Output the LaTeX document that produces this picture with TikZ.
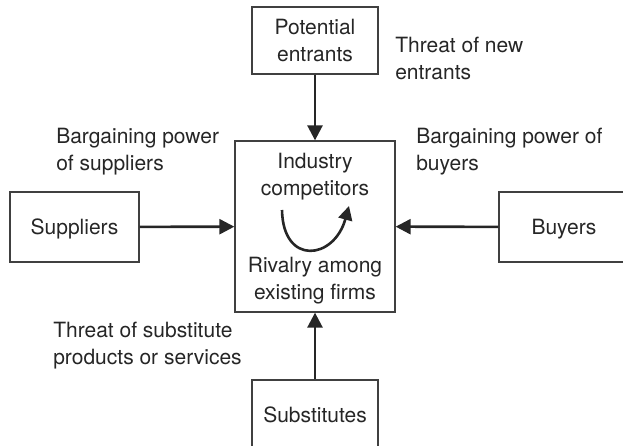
\documentclass[tikz,border=0pt]{standalone}
\usepackage{fontspec}
\setmainfont{TeX Gyre Heros}
\usetikzlibrary{arrows.meta}

\begin{document}
\begin{tikzpicture}[x=1pt,y=-1pt,line width=2.6pt,>={Triangle[length=15pt,width=15pt]},
  font=\fontsize{21}{27}\selectfont,color=black!85,
  forcebox/.style={draw=black!75,line width=1.3pt,inner sep=0pt,align=center,text depth=0pt},
  caption/.style={align=left,anchor=west,inner sep=0pt}]
  \useasboundingbox (0,0) rectangle (623,446);
  % cajas de las fuerzas
  \node[forcebox,minimum width=126pt,minimum height=67pt] (entrants) at (315,40.5) {Potential\\entrants};
  \node[forcebox,minimum width=160pt,minimum height=171pt] (rivals) at (315,226.5) {};
  \node[forcebox,minimum width=129pt,minimum height=70pt] (suppliers) at (74.5,227) {Suppliers};
  \node[forcebox,minimum width=130pt,minimum height=70pt] (buyers) at (564,227) {Buyers};
  \node[forcebox,minimum width=126pt,minimum height=70pt] (substitutes) at (315,415) {Substitutes};
  % textos dentro de la caja central
  \node[inner sep=0pt,align=center] (industry) at (315,177) {Industry\\competitors};
  \node[inner sep=0pt,align=center] (rivalry) at (315,281) {Rivalry among\\existing firms};
  % flechas hacia la industria
  \draw[->] (entrants) -- (rivals);
  \draw[->] (suppliers) -- (rivals);
  \draw[->] (buyers) -- (rivals);
  \draw[->] (substitutes) -- (rivals);
  % rivalidad
  \coordinate (u1) at (282,210);
  \coordinate (u2) at (349,206);
  \draw[->,>={Triangle[length=14pt,width=14pt]}] (u1) .. controls (283,266) and (334,260) .. (u2);
  % etiquetas de las amenazas
  \node[caption] (newthreat) at (394,58) {Threat of new\\entrants};
  \node[caption] (supplypower) at (55,152) {Bargaining power\\of suppliers};
  \node[caption] (buypower) at (415,152) {Bargaining power of\\buyers};
  \node[caption] (subthreat) at (52,346) {Threat of substitute\\products or services};
\end{tikzpicture}
\end{document}
